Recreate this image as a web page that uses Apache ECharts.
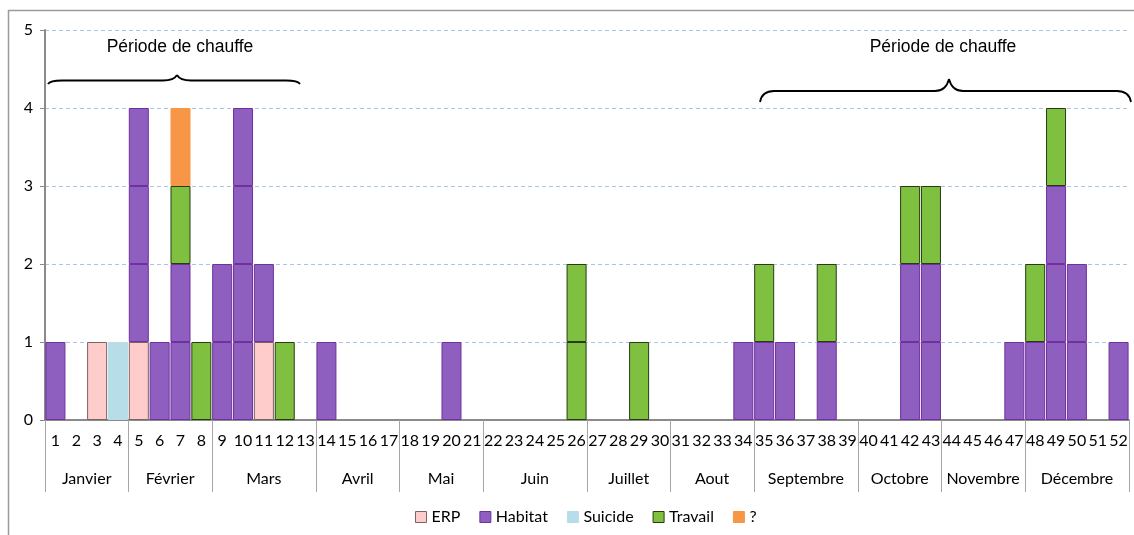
<!DOCTYPE html>
<html>
<head>
<meta charset="utf-8">
<script src="https://cdn.jsdelivr.net/npm/echarts@6/dist/echarts.min.js"></script>
<style>
  html, body { margin: 0; padding: 0; background: #fff; }
  #chart { width: 1134px; height: 535px; }
</style>
</head>
<body>
<div id="chart"></div>
<script>
// ---------- data ----------
const weeks = ['1','2','3','4','5','6','7','8','9','10','11','12','13','14','15','16','17','18','19','20',
  '21','22','23','24','25','26','27','28','29','30','31','32','33','34','35','36','37','38','39','40',
  '41','42','43','44','45','46','47','48','49','50','51','52'];

const months = ['Janvier','Février','Mars','Avril','Mai','Juin','Juillet','Aout','Septembre','Octobre','Novembre','Décembre'];
const monthWeeks = [4, 4, 5, 4, 4, 5, 4, 4, 5, 4, 4, 5]; // weeks per month

const erp = [0,0,1,0,1,0,0,0,0,0, 1,0,0,0,0,0,0,0,0,0, 0,0,0,0,0,0,0,0,0,0, 0,0,0,0,0,0,0,0,0,0, 0,0,0,0,0,0,0,0,0,0, 0,0];
const habitat = [1,0,0,0,3,1,2,0,2,4, 1,0,0,1,0,0,0,0,0,1, 0,0,0,0,0,0,0,0,0,0, 0,0,0,1,1,1,0,1,0,0, 0,2,2,0,0,0,1,1,3,2, 0,1];
const suicide = [0,0,0,1,0,0,0,0,0,0, 0,0,0,0,0,0,0,0,0,0, 0,0,0,0,0,0,0,0,0,0, 0,0,0,0,0,0,0,0,0,0, 0,0,0,0,0,0,0,0,0,0, 0,0];
const travail = [0,0,0,0,0,0,1,1,0,0, 0,1,0,0,0,0,0,0,0,0, 0,0,0,0,0,2,0,0,1,0, 0,0,0,0,1,0,0,1,0,0, 0,1,1,0,0,0,0,1,1,0, 0,0];
const inconnu = [0,0,0,0,0,0,1,0,0,0, 0,0,0,0,0,0,0,0,0,0, 0,0,0,0,0,0,0,0,0,0, 0,0,0,0,0,0,0,0,0,0, 0,0,0,0,0,0,0,0,0,0, 0,0];

// ---------- styles ----------
const cats = [
  { name: 'ERP', values: erp, color: '#ffcccc', border: '#7a6464' },
  { name: 'Habitat', values: habitat, color: '#8e5fbe', border: '#7030a0' },
  { name: 'Suicide', values: suicide, color: '#b7dde8', border: '#b7dde8' },
  { name: 'Travail', values: travail, color: '#80c040', border: '#263d10' },
  { name: '?', values: inconnu, color: '#f79646', border: '#f79646' },
];

// month boundaries / centres on a 0..52 value scale
const monthEdges = [0];
monthWeeks.forEach(n => monthEdges.push(monthEdges[monthEdges.length - 1] + n));
const monthCenters = months.map((m, i) => (monthEdges[i] + monthEdges[i + 1]) / 2);

const AXIS_FONT = 'Lato, "Noto Sans", sans-serif';

// one stacked series per unit so each case gets its own block outline
const series = [];
cats.forEach(c => {
  const max = Math.max(...c.values);
  for (let k = 1; k <= max; k++) {
    series.push({
      name: c.name,
      type: 'bar',
      stack: 'total',
      xAxisIndex: 0,
      barCategoryGap: '4%',
      data: c.values.map(v => (v >= k ? 1 : '-')),
      itemStyle: { color: c.color, borderColor: c.border, borderWidth: 1 },
      emphasis: { disabled: true },
    });
  }
});

// curly brace built from line + quadratic curve pieces
const brace = (x0, x1, xm, yEnd, yLine, yPeak) => {
  const st = { fill: 'none', stroke: '#000', lineWidth: 1.8 };
  const r = 14;
  return [
    { type: 'bezierCurve', silent: true, shape: { x1: x0, y1: yEnd, cpx1: x0 + 2, cpy1: yLine, x2: x0 + r, y2: yLine }, style: st },
    { type: 'line', silent: true, shape: { x1: x0 + r, y1: yLine, x2: xm - r, y2: yLine }, style: st },
    { type: 'bezierCurve', silent: true, shape: { x1: xm - r, y1: yLine, cpx1: xm - 3, cpy1: yLine, x2: xm, y2: yPeak }, style: st },
    { type: 'bezierCurve', silent: true, shape: { x1: xm, y1: yPeak, cpx1: xm + 3, cpy1: yLine, x2: xm + r, y2: yLine }, style: st },
    { type: 'line', silent: true, shape: { x1: xm + r, y1: yLine, x2: x1 - r, y2: yLine }, style: st },
    { type: 'bezierCurve', silent: true, shape: { x1: x1 - r, y1: yLine, cpx1: x1 - 2, cpy1: yLine, x2: x1, y2: yEnd }, style: st },
  ];
};

const chart = echarts.init(document.getElementById('chart'), null, { renderer: 'canvas' });

chart.setOption({
  backgroundColor: '#fff',
  animation: false,
  grid: { left: 45, right: 5, top: 30, bottom: 115 },
  legend: {
    bottom: 5,
    left: 410,
    icon: 'rect',
    itemWidth: 11,
    itemHeight: 11,
    itemGap: 19,
    textStyle: { fontFamily: AXIS_FONT, fontSize: 16, color: '#000' },
    data: cats.map(c => ({ name: c.name, itemStyle: { color: c.color, borderColor: c.border, borderWidth: 1 } })),
    selectedMode: false,
  },
  xAxis: [
    {
      type: 'category',
      data: weeks,
      position: 'bottom',
      axisLine: { lineStyle: { color: '#8a8a8a', width: 2 } },
      axisTick: { length: 42, lineStyle: { color: '#a6a6a6' } },
      axisLabel: { interval: 0, margin: 13, fontFamily: AXIS_FONT, fontSize: 16, color: '#000' },
    },
    {
      type: 'value',
      min: 0,
      max: 52,
      position: 'bottom',
      axisLine: { show: false },
      splitLine: { show: false },
      axisTick: { show: true, length: 72, customValues: monthEdges, lineStyle: { color: '#a6a6a6' } },
      axisLabel: {
        margin: 51,
        customValues: monthCenters,
        fontFamily: AXIS_FONT,
        fontSize: 16,
        color: '#000',
        formatter: v => months[monthCenters.indexOf(v)] || '',
      },
    },
  ],
  yAxis: {
    type: 'value',
    min: 0,
    max: 5,
    interval: 1,
    axisLine: { show: true, lineStyle: { color: '#8a8a8a', width: 2 } },
    axisTick: { show: true, length: 5, lineStyle: { color: '#8a8a8a' } },
    axisLabel: { margin: 12, fontFamily: AXIS_FONT, fontSize: 16, color: '#000' },
    splitLine: { lineStyle: { color: '#a9c4eb', type: [4, 3] } },
  },
  graphic: [
    // outer frame
    { type: 'rect', shape: { x: 8.5, y: 10.5, width: 1140, height: 540 }, style: { fill: 'none', stroke: '#9a9a9a', lineWidth: 1.5 }, silent: true },
    // heating period annotations
    { type: 'text', x: 180, y: 47, style: { text: 'Période de chauffe', font: '17.5px "Liberation Sans", Arial, sans-serif', fill: '#000', textAlign: 'center', textVerticalAlign: 'middle' }, silent: true },
    { type: 'text', x: 943, y: 47, style: { text: 'Période de chauffe', font: '17.5px "Liberation Sans", Arial, sans-serif', fill: '#000', textAlign: 'center', textVerticalAlign: 'middle' }, silent: true },
    ...brace(48, 300, 177, 84, 80.5, 75),
    ...brace(760, 1131, 949, 102, 91, 79),
  ],
  series,
});
</script>
</body>
</html>
